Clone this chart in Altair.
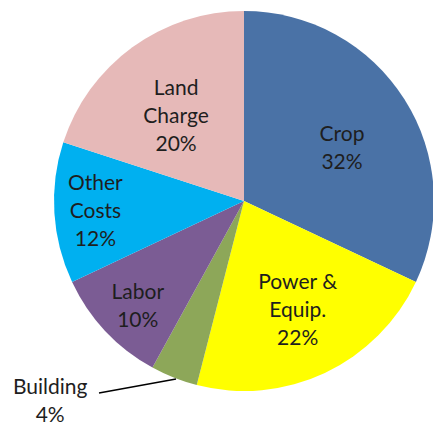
import altair as alt
import pandas as pd

categories = ["Crop", "Power & Equip.", "Building", "Labor", "Other Costs", "Land Charge"]
label_names = ["Crop", "Power &\nEquip.", "Building", "Labor", "Other\nCosts", "Land\nCharge"]
values = [32, 22, 4, 10, 12, 20]
colors = ["#4A72A6", "#FFFF00", "#8DA759", "#7B5C94", "#00B0F0", "#E6B9B8"]

df = pd.DataFrame({
    "category": categories,
    "value": values,
    "idx": list(range(len(categories))),
    "label": [f"{n}\n{v}%" for n, v in zip(label_names, values)],
})

CX, CY, R = 244, 201, 190

base = alt.Chart(df).encode(
    theta=alt.Theta("value:Q", stack=True),
    order=alt.Order("idx:Q"),
    x=alt.value(CX),
    y=alt.value(CY),
)

arcs = base.mark_arc(radius=R).encode(
    color=alt.Color("category:N", scale=alt.Scale(domain=categories, range=colors), legend=None)
)

FONT = "Lato"
FS = 21
LH = 28

# label placement: (category, radius, theta offset in radians)
placement = [
    ("Crop", 111, 0.077),
    ("Power & Equip.", 122, -0.016),
    ("Building", 279, 0.391),
    ("Labor", 150, -0.03),
    ("Other Costs", 149, -0.01),
    ("Land Charge", 108, -0.052),
]

layers = [arcs]
for cat, rad, toff in placement:
    n_lines = df.loc[df.category == cat, "label"].iloc[0].count("\n") + 1
    layers.append(
        base.mark_text(radius=rad, thetaOffset=toff, font=FONT, fontSize=FS, lineHeight=LH,
                       lineBreak="\n", align="center", baseline="middle",
                       dy=-(n_lines - 1) * LH / 2, color="#1E1E1E").encode(
            text=alt.condition(alt.FieldEqualPredicate(field="category", equal=cat),
                               alt.Text("label:N"), alt.value(""))
        )
    )

leader = alt.Chart(df).mark_rule(color="#000000", strokeWidth=1.5).encode(
    x=alt.value(99), y=alt.value(393), x2=alt.value(176), y2=alt.value(379)
).transform_filter(alt.datum.category == "Building")
layers.append(leader)

chart = alt.layer(*layers).properties(
    width=433, height=427, padding=0, autosize=alt.AutoSizeParams(type="none")
).configure_view(stroke=None)

chart.save("out.html", embed_options={"renderer": "svg", "actions": False})
